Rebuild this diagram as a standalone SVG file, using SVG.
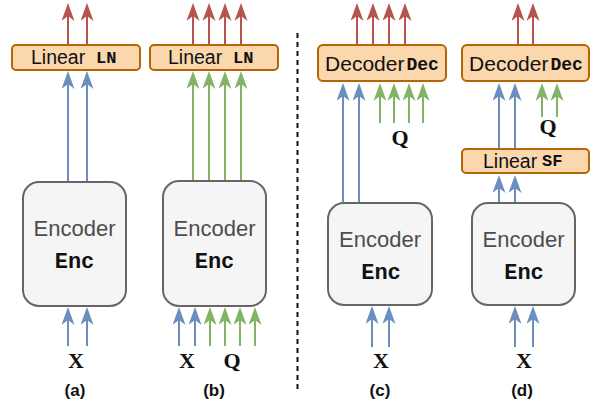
<svg xmlns="http://www.w3.org/2000/svg" width="594" height="407" viewBox="0 0 594 407">
<style>
.enc{fill:#f5f5f5;stroke:#666666;stroke-width:2}
.org{fill:#fad7ac;stroke:#b46504;stroke-width:2}
.et{font-family:"Liberation Sans",Arial,sans-serif;font-size:22px;fill:#4d4d4d;text-anchor:middle}
.em{font-family:"Courier New",Courier,"Nimbus Mono PS","FreeMono","Liberation Mono",monospace;font-weight:bold;font-size:22px;fill:#111;text-anchor:middle}
.lt{font-family:"Liberation Sans",Arial,sans-serif;font-size:19.5px;fill:#111}
.lm{font-family:"Courier New",Courier,"Nimbus Mono PS","FreeMono","Liberation Mono",monospace;font-weight:bold;font-size:17px;fill:#111}
.dt{font-family:"Liberation Sans",Arial,sans-serif;font-size:21px;fill:#111}
.dm{font-family:"Courier New",Courier,"Nimbus Mono PS","FreeMono","Liberation Mono",monospace;font-weight:bold;font-size:18px;fill:#111}
.var{font-family:"Liberation Serif","Times New Roman",serif;font-weight:bold;font-size:22px;fill:#111;text-anchor:middle}
.cap{font-family:"Liberation Sans",Arial,sans-serif;font-weight:bold;font-size:17px;fill:#111;text-anchor:middle}
.r{stroke:#b85450;stroke-width:2;fill:none;marker-end:url(#mr)}
.b{stroke:#6c8ebf;stroke-width:2;fill:none;marker-end:url(#mb)}
.g{stroke:#82b366;stroke-width:2;fill:none;marker-end:url(#mg)}
</style>
<defs>
<marker id="mr" markerUnits="userSpaceOnUse" markerWidth="19" markerHeight="13" viewBox="0 0 19 13" refX="13" refY="6.5" orient="auto"><path d="M0,0 L18,6.5 L0,13 L5,6.5 z" fill="#b85450"/></marker>
<marker id="mb" markerUnits="userSpaceOnUse" markerWidth="19" markerHeight="13" viewBox="0 0 19 13" refX="13" refY="6.5" orient="auto"><path d="M0,0 L18,6.5 L0,13 L5,6.5 z" fill="#6c8ebf"/></marker>
<marker id="mg" markerUnits="userSpaceOnUse" markerWidth="19" markerHeight="13" viewBox="0 0 19 13" refX="13" refY="6.5" orient="auto"><path d="M0,0 L18,6.5 L0,13 L5,6.5 z" fill="#82b366"/></marker>
</defs>

<g id="connectors">
<!-- (a) -->
<path class="r" d="M68,44 V8"/><path class="r" d="M87,44 V8"/>
<path class="b" d="M68,181 V76"/><path class="b" d="M87,181 V76"/>
<path class="b" d="M68,346 V312"/><path class="b" d="M87,346 V312"/>
<!-- (b) -->
<path class="r" d="M193,44 V8"/><path class="r" d="M209,44 V8"/><path class="r" d="M225,44 V8"/><path class="r" d="M241,44 V8"/>
<path class="g" d="M193,180 V76"/><path class="g" d="M209,180 V76"/><path class="g" d="M225,180 V76"/><path class="g" d="M241,180 V76"/>
<path class="b" d="M179,346 V312"/><path class="b" d="M195,346 V312"/>
<path class="g" d="M210,346 V312"/><path class="g" d="M225,346 V312"/><path class="g" d="M240,346 V312"/><path class="g" d="M255,346 V312"/>
<!-- (c) -->
<path class="r" d="M357,44 V8"/><path class="r" d="M373,44 V8"/><path class="r" d="M389,44 V8"/><path class="r" d="M405,44 V8"/>
<path class="b" d="M343,202 V88"/><path class="b" d="M359,202 V88"/>
<path class="g" d="M380,123 V88"/><path class="g" d="M394,123 V88"/><path class="g" d="M409,123 V88"/><path class="g" d="M423,123 V88"/>
<path class="b" d="M372,347 V311"/><path class="b" d="M389,347 V311"/>
<!-- (d) -->
<path class="r" d="M518,44 V8"/><path class="r" d="M533,44 V8"/>
<path class="b" d="M499,148 V88"/><path class="b" d="M515,148 V88"/>
<path class="g" d="M542,117 V88"/><path class="g" d="M557,117 V88"/>
<path class="b" d="M499,202 V180"/><path class="b" d="M515,202 V180"/>
<path class="b" d="M515,347 V311"/><path class="b" d="M533,347 V311"/>
</g>

<line x1="297.5" y1="33" x2="297.5" y2="392" stroke="#111" stroke-width="2" stroke-dasharray="5 4"/>

<!-- panel (a) -->
<g id="a-linear"><rect class="org" x="12" y="45" width="128" height="25" rx="4"/>
<text class="lt" x="31" y="64">Linear</text><text class="lm" x="96" y="63">LN</text></g>
<g id="a-encoder"><rect class="enc" x="23" y="182" width="103" height="124" rx="16"/>
<text class="et" x="74.5" y="236">Encoder</text><text class="em" x="74.5" y="268">Enc</text></g>
<g id="a-x"><text class="var" x="76" y="368">X</text></g>
<g id="a-cap"><text class="cap" x="75" y="396">(a)</text></g>

<!-- panel (b) -->
<g id="b-linear"><rect class="org" x="150" y="45" width="128" height="25" rx="4"/>
<text class="lt" x="168" y="64">Linear</text><text class="lm" x="233" y="63">LN</text></g>
<g id="b-encoder"><rect class="enc" x="163" y="181" width="103" height="125" rx="16"/>
<text class="et" x="214.5" y="236">Encoder</text><text class="em" x="214.5" y="268">Enc</text></g>
<g id="b-x"><text class="var" x="187" y="368">X</text></g>
<g id="b-q"><text class="var" x="232" y="368">Q</text></g>
<g id="b-cap"><text class="cap" x="214" y="396">(b)</text></g>

<!-- panel (c) -->
<g id="c-decoder"><rect class="org" x="318" y="45" width="128" height="36" rx="5"/>
<text x="382" y="71" text-anchor="middle"><tspan class="dt">Decoder</tspan><tspan class="dm" dx="2" dy="-1">Dec</tspan></text></g>
<g id="c-q"><text class="var" x="400" y="145">Q</text></g>
<g id="c-encoder"><rect class="enc" x="328" y="203" width="104" height="102" rx="16"/>
<text class="et" x="380" y="247">Encoder</text><text class="em" x="381" y="279">Enc</text></g>
<g id="c-x"><text class="var" x="381" y="368">X</text></g>
<g id="c-cap"><text class="cap" x="380" y="396">(c)</text></g>

<!-- panel (d) -->
<g id="d-decoder"><rect class="org" x="462" y="45" width="127" height="36" rx="5"/>
<text x="526" y="71" text-anchor="middle"><tspan class="dt">Decoder</tspan><tspan class="dm" dx="2" dy="-1">Dec</tspan></text></g>
<g id="d-q"><text class="var" x="548" y="134">Q</text></g>
<g id="d-linear"><rect class="org" x="462" y="149" width="127" height="24" rx="4"/>
<text class="lt" x="483" y="168">Linear</text><text class="lm" x="542" y="166">SF</text></g>
<g id="d-encoder"><rect class="enc" x="472" y="203" width="103" height="102" rx="16"/>
<text class="et" x="523.5" y="247">Encoder</text><text class="em" x="524" y="279">Enc</text></g>
<g id="d-x"><text class="var" x="524" y="368">X</text></g>
<g id="d-cap"><text class="cap" x="522" y="396">(d)</text></g>
</svg>
